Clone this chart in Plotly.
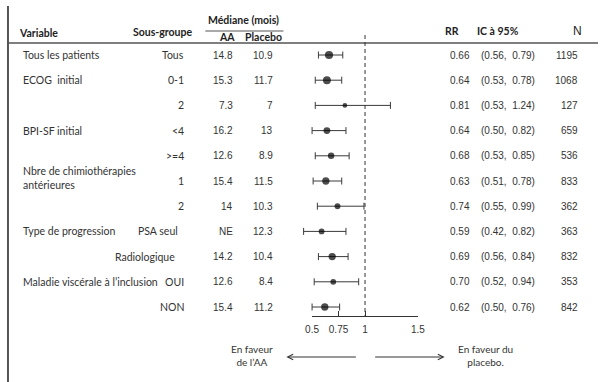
import plotly.graph_objects as go

# ---------------- data ----------------
variables = ["Tous les patients", "ECOG  initial", "", "BPI-SF initial", "",
             "Nbre de chimiothérapies<br>antérieures", "", "Type de progression", "",
             "Maladie viscérale à l’inclusion", ""]
subgroups = ["Tous", "0-1", "2", "<4", ">=4", "1", "2", "PSA seul", "Radiologique", "OUI", "NON"]
median_aa = ["14.8", "15.3", "7.3", "16.2", "12.6", "15.4", "14", "NE", "14.2", "12.6", "15.4"]
median_placebo = ["10.9", "11.7", "7", "13", "8.9", "11.5", "10.3", "12.3", "10.4", "8.4", "11.2"]
rr = [0.66, 0.64, 0.81, 0.64, 0.68, 0.63, 0.74, 0.59, 0.69, 0.70, 0.62]
ci_low = [0.56, 0.53, 0.53, 0.50, 0.53, 0.51, 0.55, 0.42, 0.56, 0.52, 0.50]
ci_high = [0.79, 0.78, 1.24, 0.82, 0.85, 0.78, 0.99, 0.82, 0.84, 0.94, 0.76]
n_patients = [1195, 1068, 127, 659, 536, 833, 362, 363, 832, 353, 842]
axis_ticks = [0.5, 0.75, 1, 1.5]
axis_ticktext = ["0.5", "0.75", "1", "1.5"]

# ---------------- layout helpers ----------------
W, H = 605, 382
X_HALF, PX_PER_UNIT = 312.3, 108.4     # pixel of RR=0.5, pixels per RR unit
ROW0, ROW_STEP = 55.0, 25.2             # pixel of first row, pixel per row
AXIS_Y = 316

def px(x):
    return x / W

def py(y):
    return 1 - y / H

rows = list(range(len(rr)))
TXT = "#333333"
LINE = "#555555"
CAL = "Lato, Carlito, Calibri, sans-serif"
ARI = "Liberation Sans, Arial, sans-serif"

sizes = [3.0 + 0.15 * (n ** 0.5) for n in n_patients]

fig = go.Figure()
fig.add_trace(go.Scatter(
    x=rr, y=rows, mode="markers",
    marker=dict(color="black", size=sizes, line=dict(width=0)),
    error_x=dict(type="data", symmetric=False,
                 array=[h - r for h, r in zip(ci_high, rr)],
                 arrayminus=[r - l for r, l in zip(rr, ci_low)],
                 color="#3a3a3a", thickness=1, width=3.5),
    showlegend=False, hoverinfo="skip"))
# empty trace so the visible RR axis subplot exists
fig.add_trace(go.Scatter(x=[], y=[], xaxis="x2", yaxis="y", showlegend=False))

ann = []

def text(x, y, s, anchor="left", font=CAL, size=10.5, color=TXT, bold=False, yref="y",
         yshift=0, align=None):
    if bold:
        s = "<b>" + s + "</b>"
    ann.append(dict(x=px(x), xref="paper", y=y, yref=yref, text=s, showarrow=False,
                    xanchor=anchor, yanchor="middle", yshift=yshift,
                    align=align or ("left" if anchor == "left" else anchor),
                    font=dict(family=font, size=size, color=color)))

# headers
text(10, py(33), "Variable", bold=True, yref="paper", color="#222")
text(159, py(32), "Sous-groupe", anchor="center", bold=True, yref="paper", color="#222")
text(242, py(20), "Médiane (mois)", anchor="center", bold=True, yref="paper", color="#222")
text(225, py(37), "AA", anchor="center", bold=True, yref="paper", color="#222")
text(263, py(37), "Placebo", anchor="center", bold=True, yref="paper", color="#222")
text(456, py(31), "RR", anchor="center", bold=True, yref="paper", color="#222")
text(503, py(31), "IC à 95%", anchor="center", bold=True, yref="paper", color="#222")
text(584, py(31), "N", anchor="center", font=ARI, size=12, yref="paper", color="#222")

sub_right = {"PSA seul": 177, "Radiologique": 174}
for i in rows:
    if variables[i]:
        if "<br>" in variables[i]:
            text(14, i, variables[i], yshift=3)
        else:
            text(14, i, variables[i])
    text(sub_right.get(subgroups[i], 183), i, subgroups[i], anchor="right")
    text(233, i, median_aa[i], anchor="right", font=ARI, size=10)
    text(274, i, median_placebo[i], anchor="right", font=ARI, size=10)
    text(451, i, f"{rr[i]:.2f}", font=ARI, size=10)
    text(483, i, f"({ci_low[i]:.2f},  {ci_high[i]:.2f})", font=ARI, size=10)
    text(587, i, str(n_patients[i]), anchor="right", font=ARI, size=10)

# favour labels
text(251, py(355), "En faveur<br>de l’AA", anchor="center", yref="paper", size=10)
text(490, py(355), "En faveur du<br>placebo.", anchor="center", yref="paper", size=10)

# arrows
ann.append(dict(x=px(286), y=py(357), xref="paper", yref="paper", ax=71, ay=0, text="",
                showarrow=True, arrowhead=5, arrowsize=1.1, arrowwidth=1, arrowcolor="#333"))
ann.append(dict(x=px(448), y=py(357), xref="paper", yref="paper", ax=-71, ay=0, text="",
                showarrow=True, arrowhead=5, arrowsize=1.1, arrowwidth=1, arrowcolor="#333"))

shapes = [
    # header rule
    dict(type="line", xref="paper", yref="paper", x0=0, x1=1, y0=py(43), y1=py(43),
         line=dict(color=LINE, width=1.5)),
    # underline under Médiane
    dict(type="line", xref="paper", yref="paper", x0=px(203), x1=px(283), y0=py(31), y1=py(31),
         line=dict(color=LINE, width=1.2)),
    # left border
    dict(type="line", xref="paper", yref="paper", x0=px(1), x1=px(1), y0=py(6), y1=0,
         line=dict(color=LINE, width=2)),
    # reference line at RR = 1
    dict(type="line", xref="x", yref="paper", x0=1, x1=1, y0=py(35), y1=py(AXIS_Y),
         line=dict(color="#333", width=1, dash="4px,3px")),
]

x_range = [0.5 - X_HALF / PX_PER_UNIT, 0.5 + (W - X_HALF) / PX_PER_UNIT]
y_range = [(H - ROW0) / ROW_STEP, -ROW0 / ROW_STEP]

fig.update_layout(
    width=W, height=H, margin=dict(l=0, r=0, t=0, b=0),
    paper_bgcolor="white", plot_bgcolor="rgba(0,0,0,0)",
    xaxis=dict(domain=[0, 1], range=x_range, visible=False, fixedrange=True),
    yaxis=dict(domain=[0, 1], range=y_range, visible=False, fixedrange=True),
    xaxis2=dict(domain=[px(X_HALF), px(X_HALF + PX_PER_UNIT)], range=[0.5, 1.5],
                anchor="free", position=py(AXIS_Y), showline=True, linecolor="#333",
                linewidth=1, ticks="inside", ticklen=5, tickcolor="#333", tickwidth=1,
                tickvals=axis_ticks, ticktext=axis_ticktext, showgrid=False, zeroline=False,
                ticklabelstandoff=4,
                tickfont=dict(family=ARI, size=10, color=TXT)),
    annotations=ann, shapes=shapes, showlegend=False,
)

fig.write_html("out.html", config={"displayModeBar": False},
               post_script="document.body.style.margin='0';document.body.style.overflow='hidden';")
